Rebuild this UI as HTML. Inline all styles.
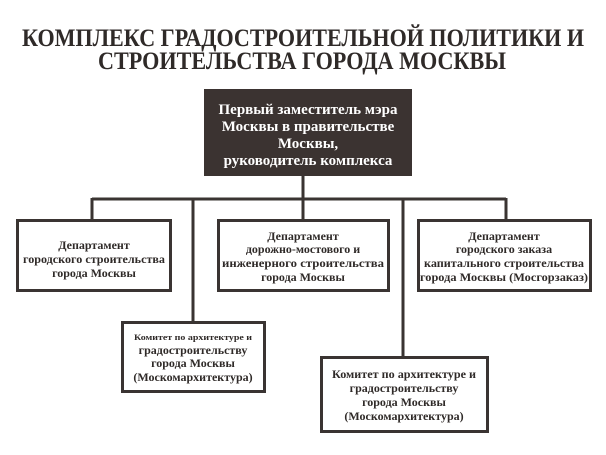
<!DOCTYPE html>
<html><head><meta charset="utf-8"><style>
html,body{margin:0;padding:0;background:#fff;}
svg{display:block;}
text{font-family:"Liberation Serif",serif;font-weight:bold;fill:#2f2a28;text-anchor:middle;}
</style></head><body>
<svg width="606" height="455" viewBox="0 0 606 455" xmlns="http://www.w3.org/2000/svg">
<rect width="606" height="455" fill="#fff"/>
<text x="303" y="46" font-size="25" textLength="562" lengthAdjust="spacingAndGlyphs">КОМПЛЕКС ГРАДОСТРОИТЕЛЬНОЙ ПОЛИТИКИ И</text>
<text x="302" y="69" font-size="25" textLength="408" lengthAdjust="spacingAndGlyphs">СТРОИТЕЛЬСТВА ГОРОДА МОСКВЫ</text>
<g stroke="#3a3432" stroke-width="3" fill="none">
<line x1="303" y1="176" x2="303" y2="199"/>
<line x1="92" y1="199" x2="506" y2="199"/>
<line x1="92" y1="198" x2="92" y2="220"/>
<line x1="303" y1="198" x2="303" y2="220"/>
<line x1="506" y1="198" x2="506" y2="220"/>
<line x1="193" y1="198" x2="193" y2="322"/>
<line x1="403" y1="198" x2="403" y2="357"/>
</g>
<rect x="204" y="89" width="208" height="87" fill="#3b3331"/>
<g font-size="15">
<text x="308" y="114" style="fill:#fff">Первый заместитель мэра</text>
<text x="308" y="131" style="fill:#fff">Москвы в правительстве</text>
<text x="308" y="148" style="fill:#fff">Москвы,</text>
<text x="308" y="165" style="fill:#fff">руководитель комплекса</text>
</g>
<g fill="#fff" stroke="#3a3432" stroke-width="3">
<rect x="17.5" y="220.5" width="153" height="70"/>
<rect x="218.5" y="220.5" width="170" height="70"/>
<rect x="418.5" y="220.5" width="172" height="70"/>
<rect x="122.5" y="322.5" width="142" height="69"/>
<rect x="321.5" y="357.5" width="166" height="74"/>
</g>
<g font-size="12">
<text x="94" y="249">Департамент</text>
<text x="94" y="263" textLength="142" lengthAdjust="spacingAndGlyphs">городского строительства</text>
<text x="94" y="277">города Москвы</text>
<text x="303" y="240">Департамент</text>
<text x="303" y="253">дорожно-мостового и</text>
<text x="303" y="267" textLength="162" lengthAdjust="spacingAndGlyphs">инженерного строительства</text>
<text x="303" y="281">города Москвы</text>
<text x="504" y="240">Департамент</text>
<text x="504" y="253">городского заказа</text>
<text x="504" y="267" textLength="160" lengthAdjust="spacingAndGlyphs">капитального строительства</text>
<text x="504" y="281" textLength="168" lengthAdjust="spacingAndGlyphs">города Москвы (Мосгорзаказ)</text>
<text x="193" y="340" font-size="8" textLength="118" lengthAdjust="spacingAndGlyphs">Комитет по архитектуре и</text>
<text x="193" y="354">градостроительству</text>
<text x="193" y="367">города Москвы</text>
<text x="193" y="381">(Москомархитектура)</text>
<text x="404" y="378" textLength="144" lengthAdjust="spacingAndGlyphs">Комитет по архитектуре и</text>
<text x="404" y="392">градостроительству</text>
<text x="404" y="406">города Москвы</text>
<text x="404" y="420">(Москомархитектура)</text>
</g>
</svg>
</body></html>
